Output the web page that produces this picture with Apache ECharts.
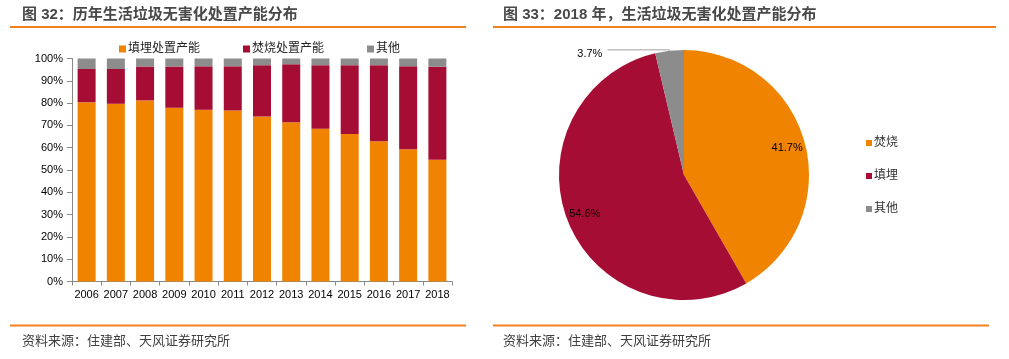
<!DOCTYPE html>
<html><head><meta charset="utf-8">
<script src="https://cdn.jsdelivr.net/npm/echarts@6/dist/echarts.min.js"></script>
<style>html,body{margin:0;padding:0;background:#fff}#c{width:1009px;height:359px}</style>
</head><body><div id="c"></div>
<script>
const years = ['2006','2007','2008','2009','2010','2011','2012','2013','2014','2015','2016','2017','2018'];
const landfill = [80.4, 79.7, 81.2, 77.9, 77.0, 76.7, 74.0, 71.4, 68.5, 66.1, 62.9, 59.3, 54.6];
const incineration = [14.9, 15.6, 15.2, 18.5, 19.5, 19.8, 23.0, 26.0, 28.5, 30.9, 34.1, 37.2, 41.7];
const other = [4.7, 4.7, 3.6, 3.6, 3.5, 3.5, 3.0, 2.6, 3.0, 3.0, 3.0, 3.5, 3.7];
const barNames = ['填埋处置产能', '焚烧处置产能', '其他'];
const pieNames = ['焚烧', '填埋', '其他'];
const pieValues = [41.7, 54.6, 3.7];
const yTicks = [0, 10, 20, 30, 40, 50, 60, 70, 80, 90, 100];
const titleLeft = '图 32：历年生活垃圾无害化处置产能分布';
const titleRight = '图 33：2018 年，生活垃圾无害化处置产能分布';
const source = '资料来源：住建部、天风证券研究所';

const ORANGE = '#F08300', RED = '#A50D35', GRAY = '#8C8C8C', LINE = '#F0821E';
const FONT = '"Liberation Sans", Arial, "Noto Sans CJK SC", sans-serif';
const chart = echarts.init(document.getElementById('c'));
const pieData = pieNames.map((n, i) => ({name: n, value: pieValues[i]}));
pieData[2].label = {show: true, position: 'outside', formatter: p => p.value.toFixed(1) + '%', color: '#000', fontSize: 11, fontFamily: FONT, distanceToLabelLine: 3};
pieData[2].labelLine = {show: true, length: 1, length2: 62, lineStyle: {color: '#A0A0A0', width: 1}};
const R = 125;
chart.setOption({
  animation: false,
  textStyle: {fontFamily: FONT},
  graphic: [
    {type: 'text', left: 22, top: 7, style: {text: titleLeft, font: 'bold 15px ' + FONT, fill: '#484848'}},
    {type: 'text', left: 503, top: 7, style: {text: titleRight, font: 'bold 15px ' + FONT, fill: '#484848'}},
    {type: 'rect', shape: {x: 10, y: 26, width: 456, height: 2}, style: {fill: LINE}},
    {type: 'rect', shape: {x: 493, y: 26, width: 503, height: 2}, style: {fill: LINE}},
    {type: 'rect', shape: {x: 10, y: 324.5, width: 456, height: 2}, style: {fill: LINE}},
    {type: 'rect', shape: {x: 493, y: 324.5, width: 496, height: 2}, style: {fill: LINE}},
    {type: 'text', left: 22, top: 335, style: {text: source, font: '13px ' + FONT, fill: '#404040'}},
    {type: 'text', left: 503, top: 335, style: {text: source, font: '13px ' + FONT, fill: '#404040'}}
  ],
  legend: [
    {data: barNames, left: 119, top: 43, padding: 0, itemWidth: 7, itemHeight: 7, itemGap: 43, icon: 'rect',
     textStyle: {fontSize: 12, color: '#222', padding: [0, 0, 0, -3]}},
    {data: pieNames, left: 866, top: 136, padding: 0, orient: 'vertical', itemWidth: 6, itemHeight: 6, itemGap: 19, icon: 'rect',
     textStyle: {fontSize: 12, color: '#333', lineHeight: 14, padding: [0, 0, 0, -3]}}
  ],
  grid: {left: 72, right: 557, top: 58.5, bottom: 77.5, containLabel: false},
  xAxis: {type: 'category', data: years,
    axisLine: {lineStyle: {color: '#888'}},
    axisTick: {show: true, alignWithLabel: false, length: 4, lineStyle: {color: '#888'}},
    axisLabel: {color: '#000', fontSize: 11, margin: 8, interval: 0}},
  yAxis: {type: 'value', min: 0, max: 100, interval: 10,
    axisLine: {show: true, lineStyle: {color: '#888'}},
    axisTick: {show: true, inside: false, length: 5, lineStyle: {color: '#888'}},
    splitLine: {show: false},
    axisLabel: {color: '#000', fontSize: 11, margin: 9, formatter: v => yTicks.includes(v) ? v + '%' : ''}},
  series: [
    {name: barNames[0], type: 'bar', stack: 's', data: landfill, barWidth: 18, itemStyle: {color: ORANGE}},
    {name: barNames[1], type: 'bar', stack: 's', data: incineration, barWidth: 18, itemStyle: {color: RED}},
    {name: barNames[2], type: 'bar', stack: 's', data: other, barWidth: 18, itemStyle: {color: GRAY}},
    {name: 'pie', type: 'pie', center: [684, 175], radius: [0, R], startAngle: 90, clockwise: true,
     avoidLabelOverlap: false, data: pieData,
     color: [ORANGE, RED, GRAY],
     labelLayout: p => p.dataIndex === 2 ? {dy: 4, dx: -2} : {},
     label: {show: false}, labelLine: {show: false}},
    {name: 'pieLabels', type: 'pie', center: [684, 175], radius: [R * 0.66, R], startAngle: 90, clockwise: true,
     silent: true, avoidLabelOverlap: false, legendHoverLink: false,
     data: pieNames.slice(0, 2).map((n, i) => ({name: n, value: pieValues[i]})).concat([{name: '_o', value: pieValues[2], label: {show: false}}]),
     itemStyle: {color: 'rgba(0,0,0,0)'},
     label: {show: true, position: 'inside', formatter: p => p.value.toFixed(1) + '%', color: '#000', fontSize: 11, fontFamily: FONT},
     labelLine: {show: false}}
  ]
});
</script></body></html>
